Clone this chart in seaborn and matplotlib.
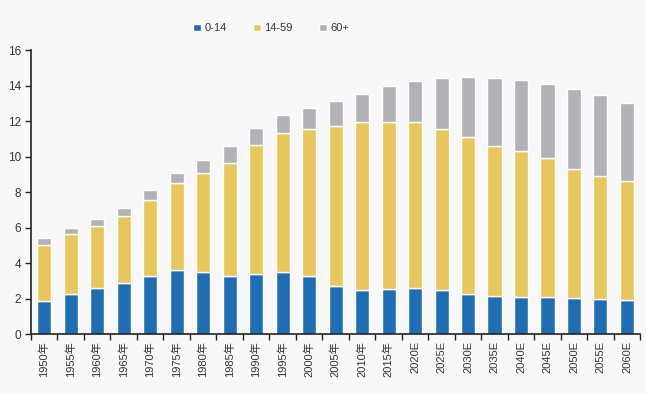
import pandas as pd
import numpy as np
import matplotlib
matplotlib.use("Agg")
import matplotlib.pyplot as plt
import seaborn as sns

# Data (population, hundred-millions)
years = ["1950年", "1955年", "1960年", "1965年", "1970年", "1975年", "1980年", "1985年",
         "1990年", "1995年", "2000年", "2005年", "2010年", "2015年", "2020E", "2025E",
         "2030E", "2035E", "2040E", "2045E", "2050E", "2055E", "2060E"]
age_0_14 = [1.84, 2.27, 2.57, 2.90, 3.28, 3.61, 3.48, 3.28, 3.39, 3.48, 3.28, 2.69,
            2.46, 2.56, 2.61, 2.50, 2.28, 2.16, 2.09, 2.07, 2.03, 1.98, 1.90]
age_14_59 = [3.18, 3.35, 3.50, 3.77, 4.30, 4.91, 5.60, 6.36, 7.26, 7.82, 8.25, 9.04,
             9.46, 9.36, 9.31, 9.08, 8.80, 8.43, 8.24, 7.86, 7.25, 6.92, 6.74]
age_60 = [0.41, 0.37, 0.41, 0.45, 0.53, 0.58, 0.75, 0.96, 0.97, 1.03, 1.23, 1.40,
          1.63, 2.04, 2.34, 2.87, 3.40, 3.84, 3.97, 4.14, 4.51, 4.56, 4.40]

df = pd.DataFrame({"year": years, "a": age_0_14, "b": age_14_59, "c": age_60})
df["ab"] = df["a"] + df["b"]

sns.set_style("white")
plt.rcParams["font.family"] = ["Liberation Sans", "Noto Sans CJK SC", "DejaVu Sans"]

bg = "#f8f8fa"
fig = plt.figure(figsize=(6.46, 3.94), dpi=100, facecolor=bg)
ax = fig.add_axes([0.048, 0.152, 0.943, 0.721])
ax.set_facecolor(bg)

blue, yellow, grey = "#1f6db2", "#e7c65b", "#b4b1b6"
w = 0.53
sns.barplot(data=df, x="year", y="a", color=blue, width=w, saturation=1, ax=ax, label="0-14")
sns.barplot(data=df, x="year", y="b", bottom=df["a"], color=yellow, width=w, saturation=1,
            ax=ax, label="14-59")
sns.barplot(data=df, x="year", y="c", bottom=df["ab"], color=grey, width=w, saturation=1,
            ax=ax, label="60+")

ax.set_xlim(-0.5, len(years) - 0.5)
ax.set_ylim(0, 16)
ax.set_yticks(range(0, 17, 2))
ax.set_xlabel("")
ax.set_ylabel("")
ax.tick_params(axis="y", direction="out", length=4, width=1, color="#222222",
               labelsize=8.5, labelcolor="#333333", left=True, pad=3)
ax.tick_params(axis="x", which="major", length=0, labelsize=8, labelcolor="#333333",
               rotation=90, pad=5)
ax.set_xticks(np.arange(-0.5, len(years), 1), minor=True)
ax.tick_params(axis="x", which="minor", direction="out", length=4, width=1,
               color="#222222", bottom=True)
for s in ["top", "right"]:
    ax.spines[s].set_visible(False)
for s in ["left", "bottom"]:
    ax.spines[s].set_color("#222222")
    ax.spines[s].set_linewidth(1.2)

handles, labels = ax.get_legend_handles_labels()
if ax.get_legend() is not None:
    ax.get_legend().remove()
fig.legend(handles, labels, loc="center", bbox_to_anchor=(0.42, 0.928), ncol=3,
           frameon=False, fontsize=8, handlelength=0.7, handleheight=0.7,
           handletextpad=0.3, columnspacing=2.4, labelcolor="#333333")

fig.savefig("out.png", dpi=100, facecolor=bg)
